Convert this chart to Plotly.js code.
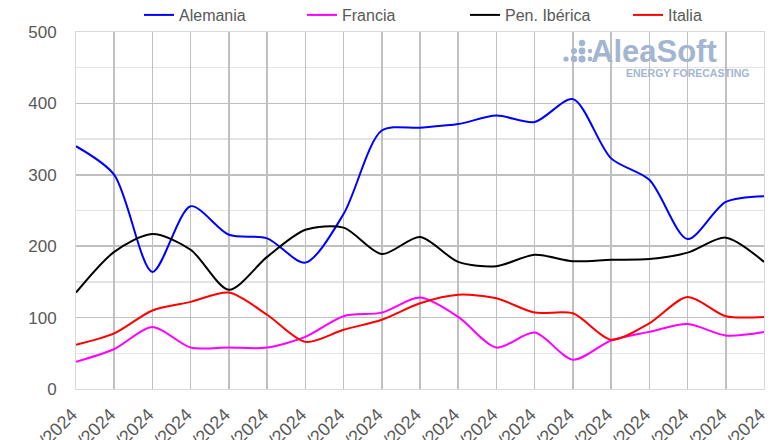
<!DOCTYPE html>
<html>
<head>
<meta charset="utf-8">
<script src="https://cdn.plot.ly/plotly-3.0.1.min.js"></script>
<style>html,body{margin:0;padding:0;background:#fff;}#chart{width:780px;height:440px;}</style>
</head>
<body>
<div id="chart"></div>
<script>
const dates = ["01/04/2024","02/04/2024","03/04/2024","04/04/2024","05/04/2024","06/04/2024","07/04/2024","08/04/2024","09/04/2024","10/04/2024","11/04/2024","12/04/2024","13/04/2024","14/04/2024","15/04/2024","16/04/2024","17/04/2024","18/04/2024","19/04/2024"];
const alemania = [340, 300, 164, 256, 216, 211, 177, 245, 362, 366, 371, 383, 374, 406, 323, 293, 210, 262, 270];
const francia  = [38, 56, 87, 58, 58, 58, 73, 102, 107, 128, 101, 58, 79, 41, 68, 80, 91, 75, 80];
const iberica  = [135, 192, 217, 195, 139, 185, 223, 226, 189, 213, 178, 172, 188, 179, 181, 182, 191, 212, 178];
const italia   = [62, 78, 110, 122, 135, 104, 66, 83, 97, 120, 132, 127, 107, 106, 69, 92, 129, 102, 101];

const names = ["Alemania", "Francia", "Pen. Ibérica", "Italia"];
const colors = ["#0000ff", "#ff00ff", "#000000", "#ff0000"];
const series = [alemania, francia, iberica, italia];

const traces = series.map((s, i) => ({
  x: dates, y: s, name: names[i], type: "scatter", mode: "lines",
  line: {color: colors[i], width: 2, shape: "spline", smoothing: 0.8},
  hoverinfo: "skip"
}));

const wm = "#a3b6d1";

const layout = {
  width: 780, height: 440,
  margin: {l: 76, r: 16, t: 32, b: 51, autoexpand: false},
  paper_bgcolor: "#ffffff", plot_bgcolor: "#ffffff",
  font: {family: "Liberation Sans, Arial, sans-serif", color: "#595959"},
  showlegend: true,
  legend: {orientation: "h", x: 0.0916, xanchor: "left", y: 1.0476, yanchor: "middle",
           font: {family: "Liberation Sans, Arial, sans-serif", size: 16, color: "#595959"},
           entrywidth: 118, entrywidthmode: "pixels", itemwidth: 30, traceorder: "normal",
           bgcolor: "rgba(0,0,0,0)"},
  xaxis: {
    type: "category", tickangle: -45, tickfont: {size: 18, color: "#595959"},
    showgrid: true, gridcolor: "#c0c0c0", gridwidth: 1.5,
    showline: true, linecolor: "#d9d9d9", mirror: true, zeroline: false,
    ticks: "", automargin: false, range: [0, 18], ticklabelshift: -4, ticklabelstandoff: 7
  },
  yaxis: {
    range: [0, 500], dtick: 100, tickfont: {size: 17, color: "#595959"},
    showgrid: true, gridcolor: "#c0c0c0", gridwidth: 1.5,
    minor: {dtick: 50, showgrid: true, gridcolor: "#e3e3e3", gridwidth: 1.5},
    showline: true, linecolor: "#d9d9d9", mirror: true, zeroline: false,
    ticks: "", automargin: false, ticklabelstandoff: 15
  },
  annotations: [
    {xref: "paper", yref: "paper", x: 0.745, y: 0.945, xanchor: "left", yanchor: "middle",
     text: "<b>AleaSoft</b>", showarrow: false, font: {family: "Liberation Sans, Arial, sans-serif", size: 31, color: wm}},
    {xref: "paper", yref: "paper", x: 0.797, y: 0.884, xanchor: "left", yanchor: "middle",
     text: "<b>ENERGY FORECASTING</b>", showarrow: false, font: {family: "Liberation Sans, Arial, sans-serif", size: 10.5, color: wm}}
  ],
  shapes: []
};
// watermark dots (decoration, paper coordinates)
const dotPos = [[566,59,2.6],[574,59,3.2],[582,59,3.6],[574,51,3.0],[582,51,3.4],[582,43,3.2],[590,51,2.2],[590,59,2.4]];
dotPos.forEach(p => {
  const r = p[2];
  const cx = (p[0] - 76) / 688, cy = (389 - p[1]) / 357;
  layout.shapes.push({type: "circle", xref: "paper", yref: "paper", layer: "above",
    x0: cx - r/688, x1: cx + r/688, y0: cy - r/357, y1: cy + r/357,
    fillcolor: wm, line: {width: 0}});
});

Plotly.newPlot("chart", traces, layout, {displayModeBar: false, staticPlot: true});
</script>
</body>
</html>
